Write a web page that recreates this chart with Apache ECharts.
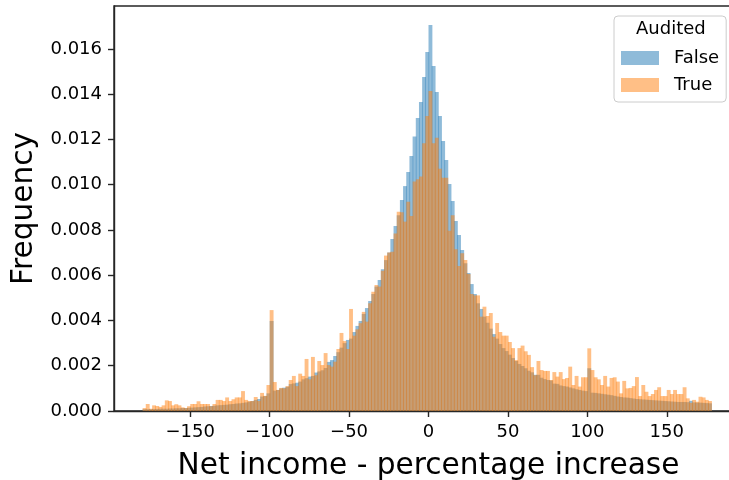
<!DOCTYPE html>
<html>
<head>
<meta charset="utf-8">
<script src="https://cdn.jsdelivr.net/npm/echarts@6/dist/echarts.min.js"></script>
<style>html,body{margin:0;padding:0;background:#fff}#c{width:729px;height:480px}</style>
</head>
<body>
<div id="c"></div>
<script>
// Histogram bins: first edge and width (x categories)
const binStart = -180;
const binWidth = 2;
const xTicks = [-150, -100, -50, 0, 50, 100, 150];
const yTicks = [0, 0.002, 0.004, 0.006, 0.008, 0.010, 0.012, 0.014, 0.016];
const seriesNames = ['False', 'True'];

// Density per bin, Audited = False (blue)
const falseValues = [
0.00008,0.00008,0.00008,0.00009,0.00009,0.0001,0.0001,0.0001,0.00011,0.00011,
0.00012,0.00012,0.00013,0.00013,0.00014,0.00015,0.00016,0.00017,0.00018,0.0002,
0.00021,0.00022,0.00023,0.00025,0.00026,0.00027,0.00028,0.0003,0.00031,0.00033,
0.00034,0.00036,0.00038,0.00041,0.00044,0.00049,0.00053,0.00064,0.00066,0.00078,
0.00398,0.0009,0.00093,0.001,0.00103,0.00107,0.00119,0.00122,0.00125,0.0013,
0.0014,0.00145,0.00152,0.00155,0.0017,0.00175,0.0018,0.0019,0.00217,0.00225,
0.00243,0.0026,0.0028,0.003,0.00314,0.0032,0.00349,0.00376,0.00398,0.00429,
0.00455,0.00486,0.00517,0.0055,0.00579,0.00626,0.00667,0.00701,0.0076,0.00818,
0.00865,0.00933,0.00994,0.01056,0.01127,0.01213,0.01295,0.01366,0.01476,0.01587,
0.01706,0.01525,0.0141,0.01304,0.01193,0.01109,0.01003,0.00928,0.0084,0.00778,
0.00712,0.00653,0.0061,0.00561,0.00517,0.00476,0.00451,0.00417,0.0039,0.00364,
0.0034,0.0032,0.00296,0.00278,0.00265,0.00249,0.00234,0.00221,0.00208,0.00199,
0.00189,0.00178,0.00171,0.0016,0.0016,0.00147,0.00141,0.00137,0.00135,0.00121,
0.0012,0.00113,0.0011,0.00108,0.00104,0.001,0.00096,0.00093,0.0009,0.00088,
0.00189,0.00081,0.0008,0.00078,0.00076,0.00074,0.00072,0.0007,0.00067,0.00064,
0.00062,0.0006,0.00059,0.00057,0.00055,0.00053,0.00052,0.00051,0.0005,0.00049,
0.00048,0.00047,0.00046,0.00045,0.00044,0.00043,0.00042,0.00041,0.0004,0.0004,
0.0004,0.00039,0.00045,0.00038,0.00037,0.00037,0.00036,0.00035,0.00034
];

// Density per bin, Audited = True (orange)
const trueValues = [
0.00013,0.00031,0.0001,0.00025,0.00022,0.00018,0.00025,0.00047,0.00044,0.00025,
0.0003,0.00025,0.00016,0.00013,0.00021,0.00031,0.00031,0.00043,0.00031,0.00031,
0.00031,0.00021,0.00031,0.00049,0.00049,0.00044,0.0006,0.00044,0.00052,0.0006,
0.0006,0.00088,0.00049,0.00044,0.00044,0.00062,0.00044,0.0008,0.00067,0.00115,
0.00446,0.00128,0.00093,0.00102,0.001,0.0011,0.00137,0.00155,0.0011,0.00165,
0.00155,0.0023,0.0014,0.00239,0.00158,0.00221,0.00203,0.00256,0.00203,0.00196,
0.00218,0.00274,0.00345,0.00309,0.00274,0.00451,0.00333,0.00361,0.00388,0.00438,
0.00395,0.00476,0.00527,0.00557,0.0055,0.0062,0.00687,0.007,0.00704,0.00785,
0.00881,0.00878,0.00837,0.00925,0.00862,0.01014,0.01024,0.01036,0.01183,0.01304,
0.01414,0.01183,0.01208,0.01071,0.01031,0.01031,0.00797,0.00865,0.00715,0.00641,
0.00697,0.00667,0.00606,0.00517,0.00511,0.00511,0.00417,0.00461,0.0042,0.00433,
0.00328,0.00389,0.00349,0.00333,0.00333,0.00305,0.00278,0.00225,0.00278,0.00289,
0.00264,0.00248,0.00194,0.00158,0.00221,0.00181,0.00177,0.00177,0.00137,0.00172,
0.00152,0.00172,0.00141,0.00146,0.00196,0.00115,0.00155,0.00108,0.00149,0.00149,
0.00277,0.00181,0.00149,0.0014,0.00115,0.00155,0.00108,0.00146,0.00149,0.0013,
0.00078,0.00133,0.001,0.00102,0.0011,0.0015,0.00066,0.00115,0.00085,0.00066,
0.00075,0.00093,0.00105,0.00066,0.00066,0.00093,0.00075,0.00093,0.00075,0.00075,
0.00105,0.00056,0.00036,0.00049,0.00041,0.00063,0.0006,0.00049,0.00044
];

const colors = ['rgba(31,119,180,0.5)', 'rgba(255,127,14,0.5)'];
const FONT = 'DejaVu Sans';

function toRows(vals) {
  return vals.map((v, i) => [binStart + i * binWidth, binStart + (i + 1) * binWidth, v]);
}

function makeSeries(name, vals, color) {
  return {
    name: name,
    type: 'custom',
    data: toRows(vals),
    encode: { x: [0, 1], y: 2 },
    itemStyle: { color: color },
    renderItem: function (params, api) {
      const p0 = api.coord([api.value(0), 0]);
      const p1 = api.coord([api.value(1), api.value(2)]);
      return {
        type: 'rect',
        shape: { x: p0[0], y: p1[1], width: p1[0] - p0[0] + 0.7, height: p0[1] - p1[1] },
        style: { fill: color }
      };
    }
  };
}

const chart = echarts.init(document.getElementById('c'), null, { renderer: 'canvas' });
chart.setOption({
  animation: false,
  backgroundColor: '#fff',
  textStyle: { fontFamily: FONT },
  grid: { left: 114, top: 6, width: 629, height: 405, outerBoundsMode: 'none', containLabel: false,
    show: true, borderColor: '#262626', borderWidth: 1.4, backgroundColor: 'transparent' },
  xAxis: {
    type: 'value', min: -198, max: 198,
    splitLine: { show: false },
    axisLine: { show: true, onZero: false, lineStyle: { color: '#262626', width: 1.4 } },
    axisTick: { show: true, length: 6, lineStyle: { color: '#262626', width: 1.4 }, customValues: xTicks },
    axisLabel: { color: '#000', fontSize: 18, fontFamily: FONT, margin: 12, customValues: xTicks,
      formatter: v => String(v).replace('-', '\u2212') },
    name: 'Net income - percentage increase', nameLocation: 'middle', nameGap: 40,
    nameTextStyle: { color: '#000', fontSize: 29.6, fontFamily: FONT }
  },
  yAxis: {
    type: 'value', min: 0, max: 0.0179,
    splitLine: { show: false },
    axisLine: { show: true, onZero: false, lineStyle: { color: '#262626', width: 1.4 } },
    axisTick: { show: true, length: 6, lineStyle: { color: '#262626', width: 1.4 }, customValues: yTicks },
    axisLabel: { color: '#000', fontSize: 18, fontFamily: FONT, margin: 12, customValues: yTicks,
      formatter: v => v.toFixed(3) },
    name: 'Frequency', nameLocation: 'middle', nameGap: 69, nameRotate: 90,
    nameTextStyle: { color: '#000', fontSize: 29.6, fontFamily: FONT }
  },
  legend: {
    orient: 'vertical', left: 614, top: 16,
    padding: [33, 7, 8, 7],
    borderColor: '#cccccc', borderWidth: 1, borderRadius: 4, backgroundColor: 'rgba(255,255,255,0.8)',
    itemWidth: 38, itemHeight: 14, itemGap: 9,
    textStyle: { color: '#000', fontSize: 18, fontFamily: FONT, padding: [0, 0, 0, 10] },
    data: seriesNames.map(n => ({ name: n, icon: 'rect' }))
  },
  graphic: [{
    type: 'text', left: 636, top: 20, z: 100,
    style: { text: 'Audited', fill: '#000', font: '18px "DejaVu Sans"' }
  }],
  series: [
    makeSeries(seriesNames[0], falseValues, colors[0]),
    makeSeries(seriesNames[1], trueValues, colors[1])
  ]
});
</script>
</body>
</html>
